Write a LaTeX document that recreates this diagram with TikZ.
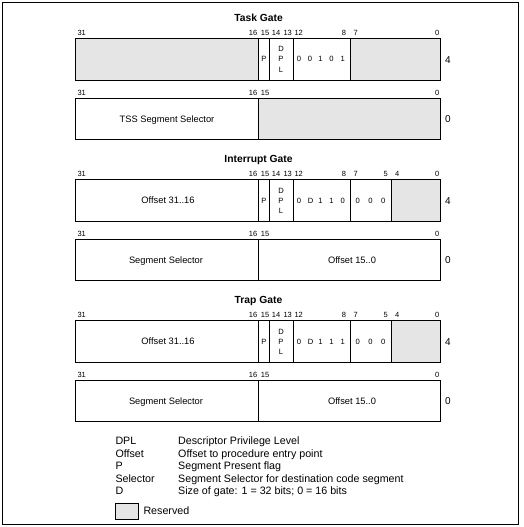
\documentclass[tikz,border=0pt]{standalone}
\usepackage{fontspec}
\setmainfont{Liberation Sans}
\definecolor{resgrey}{RGB}{229,229,229}
\tikzset{
  x=1pt, y=-1pt,
  fieldline/.style={draw=black, line width=0.9pt},
  resfill/.style={fill=resgrey},
  bitlbl/.style={font=\fontsize{7.5}{8}\selectfont, anchor=base, inner sep=0pt},
  ttl/.style={font=\fontsize{10.3}{12}\selectfont\bfseries, anchor=base, inner sep=0pt},
  intext/.style={font=\fontsize{9.3}{11}\selectfont, anchor=base, inner sep=0pt},
  smalltext/.style={font=\fontsize{7.6}{9}\selectfont, anchor=base, inner sep=0pt},
  idx/.style={font=\fontsize{10}{12}\selectfont, anchor=base, inner sep=0pt},
  leg/.style={font=\fontsize{10.7}{12}\selectfont, anchor=base west, inner sep=0pt},
}
% #1 prefix, #2 y of box top
\newcommand\gatebitsfull[2]{%
  \foreach \t/\x in {31/81.7,16/253,15/265,14/276,13/287.7,12/298.7,8/344,7/355.7,0/437.3}
    \node[bitlbl] (#1-b\t) at (\x,#2-3) {\t};}
\newcommand\gatebitsint[2]{%
  \foreach \t/\x in {31/81.7,16/253,15/265,14/276,13/287.7,12/298.7,8/344,7/355.7,5/385.7,4/397.3,0/437.3}
    \node[bitlbl] (#1-b\t) at (\x,#2-3) {\t};}
\newcommand\gatebitshalf[2]{%
  \foreach \t/\x in {31/81.7,16/253,15/265,0/437.3}
    \node[bitlbl] (#1-c\t) at (\x,#2-3) {\t};}
% #1 prefix, #2 y of row-1 centre baseline
\newcommand\gatepdpl[2]{%
  \node[smalltext] (#1-p) at (264,#2) {P};
  \node[smalltext] (#1-dd) at (281,#2-10) {D};
  \node[smalltext] (#1-dp) at (281,#2) {P};
  \node[smalltext] (#1-dl) at (281,#2+10) {L};}
\begin{document}
\begin{tikzpicture}
\useasboundingbox (0,0) rectangle (524,527);
\draw[line width=1.5pt] (2.7,2.7) rectangle (518.3,524.7);

% ================= Task Gate =================
\node[ttl] (tg-title) at (258.5,21.4) {Task Gate};
\gatebitsfull{tg}{38.5}
\fill[resfill] (75.3,38.5) rectangle (258.7,80.5);
\fill[resfill] (350.7,38.5) rectangle (440.7,80.5);
\draw[fieldline] (75.3,38.5) rectangle (440.7,80.5);
\foreach \x in {258.7,269.3,293.3,350.7}
  \draw[fieldline] (\x,38.5) -- (\x,80.5);
\gatepdpl{tg}{62}
\foreach \d/\x [count=\i] in {0/299,0/310,1/320.5,0/331.5,1/342.8}
  \node[smalltext] (tg-t\i) at (\x,62) {\d};
\node[idx] (tg-i4) at (448,63.6) {4};

\gatebitshalf{tg}{98.5}
\fill[resfill] (258.7,98.5) rectangle (440.7,139.5);
\draw[fieldline] (75.3,98.5) rectangle (440.7,139.5);
\draw[fieldline] (258.7,98.5) -- (258.7,139.5);
\node[intext] (tg-sel) at (167,122.2) {TSS Segment Selector};
\node[idx] (tg-i0) at (448,122.3) {0};

% ================= Interrupt Gate / Trap Gate =================
\foreach \pre/\name/\off/\last in {ig/Interrupt Gate/141/0,trg/Trap Gate/282/1}{
  \begin{scope}[yshift=-\off pt]
    \node[ttl] (\pre-title) at (258.5,21.4) {\name};
    \gatebitsint{\pre}{38.5}
    \fill[resfill] (391.7,38.5) rectangle (440.7,80.5);
    \draw[fieldline] (75.3,38.5) rectangle (440.7,80.5);
    \foreach \x in {258.7,269.3,293.3,350.7,391.7}
      \draw[fieldline] (\x,38.5) -- (\x,80.5);
    \node[intext] (\pre-offhi) at (168,62.6) {Offset 31..16};
    \gatepdpl{\pre}{62}
    \foreach \d/\x [count=\i] in {0/299,D/310.5,1/320.5,1/331.5,\last/342.8,0/357.7,0/370.5,0/383.3}
      \node[smalltext] (\pre-t\i) at (\x,62) {\d};
    \node[idx] (\pre-i4) at (448,63.6) {4};

    \gatebitshalf{\pre}{98.5}
    \draw[fieldline] (75.3,98.5) rectangle (440.7,139.5);
    \draw[fieldline] (258.7,98.5) -- (258.7,139.5);
    \node[intext] (\pre-sel) at (166,122.2) {Segment Selector};
    \node[intext] (\pre-offlo) at (352,122.2) {Offset 15..0};
    \node[idx] (\pre-i0) at (448,122.3) {0};
  \end{scope}
}

% ================= Legend =================
\foreach \k/\v/\y [count=\i] in {DPL/Descriptor Privilege Level/444.5,
    Offset/Offset to procedure entry point/457.1,
    P/Segment Present flag/469.7,
    Selector/Segment Selector for destination code segment/482.3,
    D/{Size of gate: 1 = 32 bits; 0 = 16 bits}/494.9}{
  \node[leg] (lk\i) at (115.3,\y) {\k};
  \node[leg] (lv\i) at (178,\y) {\v};
}
\draw[fieldline, resfill] (115.3,503.3) rectangle (138.3,519);
\node[leg] (lres) at (143.3,514.8) {Reserved};
\end{tikzpicture}
\end{document}
